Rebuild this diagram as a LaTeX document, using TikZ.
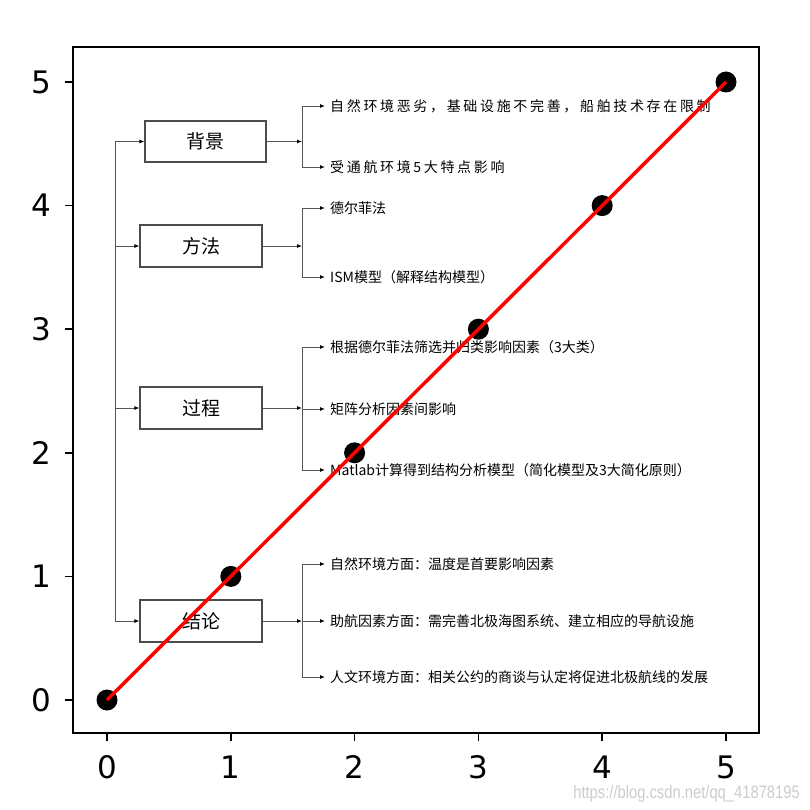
\documentclass[tikz,border=0pt]{standalone}
\usepackage{fontspec}
\usepackage{tikz}
\usetikzlibrary{arrows.meta,positioning,calc}
\newfontfamily\cjk{Noto Sans CJK SC}
\newfontfamily\cjkwide[LetterSpace=19]{Noto Sans CJK SC}
\newfontfamily\numfont{DejaVu Sans}
\newfontfamily\markfont{Liberation Sans}
\definecolor{plotred}{HTML}{FF0000}
\definecolor{linkgray}{HTML}{555555}

\begin{document}
\begin{tikzpicture}[x=1pt,y=-1pt,
  catbox/.style={draw=black!70,line width=1.2pt,minimum width=122pt,
    minimum height=42pt,inner sep=0pt,font=\cjk\fontsize{19}{19}\selectfont},
  item/.style={anchor=west,inner xsep=5pt,inner ysep=0pt,
    font=\cjk\fontsize{14}{14}\selectfont},
  link/.style={draw=linkgray,line width=0.9pt},
  arr/.style={link,-{Latex[length=5pt,width=4pt,color=black]}},
  dot/.style={circle,fill=black,minimum size=21pt,inner sep=0pt},
  ticklab/.style={font=\numfont\fontsize{31}{31}\selectfont,inner sep=0pt}]
  \useasboundingbox (0,0) rectangle (809,810);

  % Category boxes
  \node[catbox,minimum width=121pt,minimum height=41pt] (bg) at (205.5,141.5) {背景};
  \node[catbox] (ff) at (201,246) {方法};
  \node[catbox] (gc) at (201,408) {过程};
  \node[catbox] (jl) at (201,621) {结论};

  % Trunk on the left
  \coordinate (trunktop) at (115,141.5);
  \coordinate (trunkbot) at (115,621);
  \draw[link] (trunktop) -- (trunkbot);
  \foreach \b in {bg,ff,gc,jl} {
    \draw[arr] (trunktop |- \b) -- (\b.west);
  }

  % Items
  \node[item,font=\cjkwide\fontsize{14}{14}\selectfont] (bg1) at (325,106)
    {自然环境恶劣，基础设施不完善，船舶技术存在限制};
  \node[item,font=\cjkwide\fontsize{14}{14}\selectfont] (bg2) at (325,167)
    {受通航环境5大特点影响};
  \node[item] (ff1) at (325,208) {德尔菲法};
  \node[item] (ff2) at (325,277) {ISM模型（解释结构模型）};
  \node[item] (gc1) at (325,347) {根据德尔菲法筛选并归类影响因素（3大类）};
  \node[item] (gc2) at (325,409) {矩阵分析因素间影响};
  \node[item] (gc3) at (325,470) {Matlab计算得到结构分析模型（简化模型及3大简化原则）};
  \node[item] (jl1) at (325,564) {自然环境方面：温度是首要影响因素};
  \node[item] (jl2) at (325,621) {助航因素方面：需完善北极海图系统、建立相应的导航设施};
  \node[item] (jl3) at (325,677) {人文环境方面：相关公约的商谈与认定将促进北极航线的发展};

  % Forks on the right
  \coordinate (forkx) at (302,0);
  \foreach \b/\n in {bg/2,ff/2,gc/3,jl/3} {
    \draw[arr] (\b.east) -- (\b.east -| forkx);
    \draw[link] (forkx |- \b1) -- (forkx |- \b\n);
    \foreach \k in {1,...,\n} {
      \draw[arr] (forkx |- \b\k) -- (\b\k.west);
    }
  }

  % Data points and line
  \foreach \i in {0,...,5} {
    \node[dot] (p\i) at (107+123.8*\i,700-123.6*\i) {};
  }
  \draw[plotred,line width=3.5pt] (p0.center) -- (p5.center);

  % Axes frame, ticks, labels
  \draw[line width=1.8pt] (73,47) rectangle (759,733);
  \foreach \i in {0,...,5} {
    \draw[line width=1.5pt] (107+123.8*\i,733) -- ++(0,8);
    \node[ticklab] (xl\i) at (107+123.8*\i,767) {\i};
    \draw[line width=1.5pt] (73,700-123.6*\i) -- ++(-8,0);
    \node[ticklab] (yl\i) at (41,700-123.6*\i) {\i};
  }

  % Watermark
  \node[anchor=base east,inner sep=0pt,text=gray!40,
    font=\markfont\fontsize{18}{18}\selectfont] (mark)
    at (800,798) {\scalebox{0.82}[1]{https://blog.csdn.net/qq\_41878195}};
\end{tikzpicture}
\end{document}
